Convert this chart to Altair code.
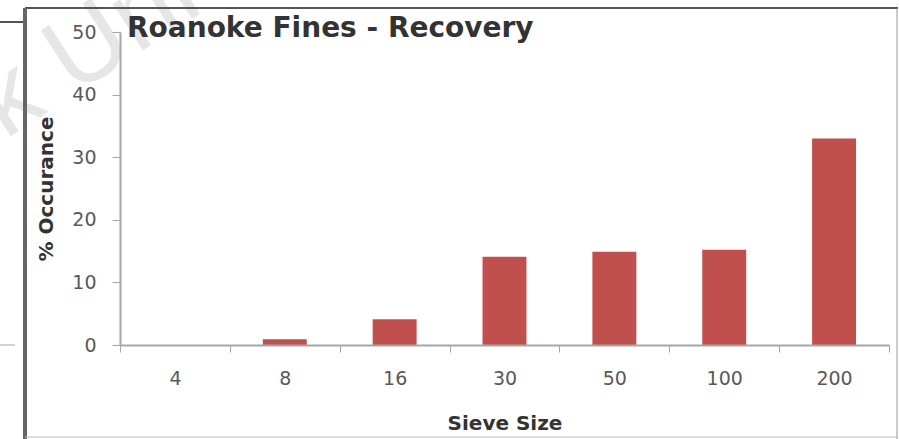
import altair as alt
import pandas as pd

# Data
sieve_sizes = ["4", "8", "16", "30", "50", "100", "200"]
pct_occurance = [0.0, 0.9, 4.1, 14.1, 14.9, 15.2, 33.0]
y_ticks = [0, 10, 20, 30, 40, 50]
title_text = "Roanoke Fines - Recovery"
x_title = "Sieve Size"
y_title = "% Occurance"
watermark = "k Univ"

BAR = "#C0504D"
AX = "#A6A6A6"
LBL = "#595959"
FONT = "DejaVu Sans"

W, H = 769, 313

df = pd.DataFrame({"size": sieve_sizes, "pct": pct_occurance})
one = pd.DataFrame({"t": [title_text], "w": [watermark]})

wm = alt.Chart(one).mark_text(
    font="Liberation Sans", fontSize=105, color="#E6E6E6",
    align="left", baseline="alphabetic", angle=327,
).encode(text="w:N", x=alt.value(-115), y=alt.value(108))

bars = alt.Chart(df).mark_bar(color=BAR, width=alt.RelativeBandSize(0.4)).encode(
    x=alt.X(
        "size:N",
        sort=sieve_sizes,
        scale=alt.Scale(paddingInner=0, paddingOuter=0),
        axis=alt.Axis(
            title=x_title,
            zindex=1,
            labelAngle=0,
            tickBand="extent",
            tickSize=7,
            tickColor=AX,
            domainColor=AX,
            domainWidth=2,
            labelColor=LBL,
            labelFont=FONT,
            labelFontSize=19,
            labelPadding=17,
            titleFont=FONT,
            titleFontSize=20,
            titleFontWeight="bold",
            titleColor="#333333",
            titlePadding=25,
        ),
    ),
    y=alt.Y(
        "pct:Q",
        scale=alt.Scale(domain=[0, 50], nice=False),
        axis=alt.Axis(
            title=y_title,
            zindex=1,
            values=y_ticks,
            grid=False,
            tickSize=8,
            tickColor=AX,
            domainColor=AX,
            domainWidth=2,
            labelColor=LBL,
            labelFont=FONT,
            labelFontSize=19,
            labelPadding=16,
            titleFont=FONT,
            titleFontSize=20,
            titleFontWeight="bold",
            titleColor="#333333",
            titlePadding=15,
        ),
    ),
)

title = alt.Chart(one).mark_text(
    font=FONT, fontSize=28, fontWeight="bold", color="#333333",
    align="left", baseline="middle",
).encode(text="t:N", x=alt.value(7), y=alt.value(-3))

def rule(x, x2, y, y2, color, w):
    return alt.Chart(one).mark_rule(color=color, strokeWidth=w).encode(
        x=alt.value(x), x2=alt.value(x2), y=alt.value(y), y2=alt.value(y2)
    )

frame = [
    rule(-95, 778, -24, -24, "#555555", 2),
    rule(-95, -95, -24, 410, "#666666", 4),
    rule(777, 777, -24, 410, "#999999", 1),
    rule(-95, 778, 405, 405, "#BBBBBB", 1),
    rule(-120, -97, -10, -10, "#555555", 2),
    rule(-120, -105, 313, 313, "#AAAAAA", 1),
]

chart = alt.layer(wm, bars, title, *frame).properties(
    width=W, height=H,
    background="white",
    autosize=alt.AutoSizeParams(type="none"),
    padding={"left": 120, "top": 32, "right": 10, "bottom": 94},
).configure_view(stroke="transparent", strokeWidth=0)

chart.save("out.html", embed_options={"renderer": "svg", "actions": False})
